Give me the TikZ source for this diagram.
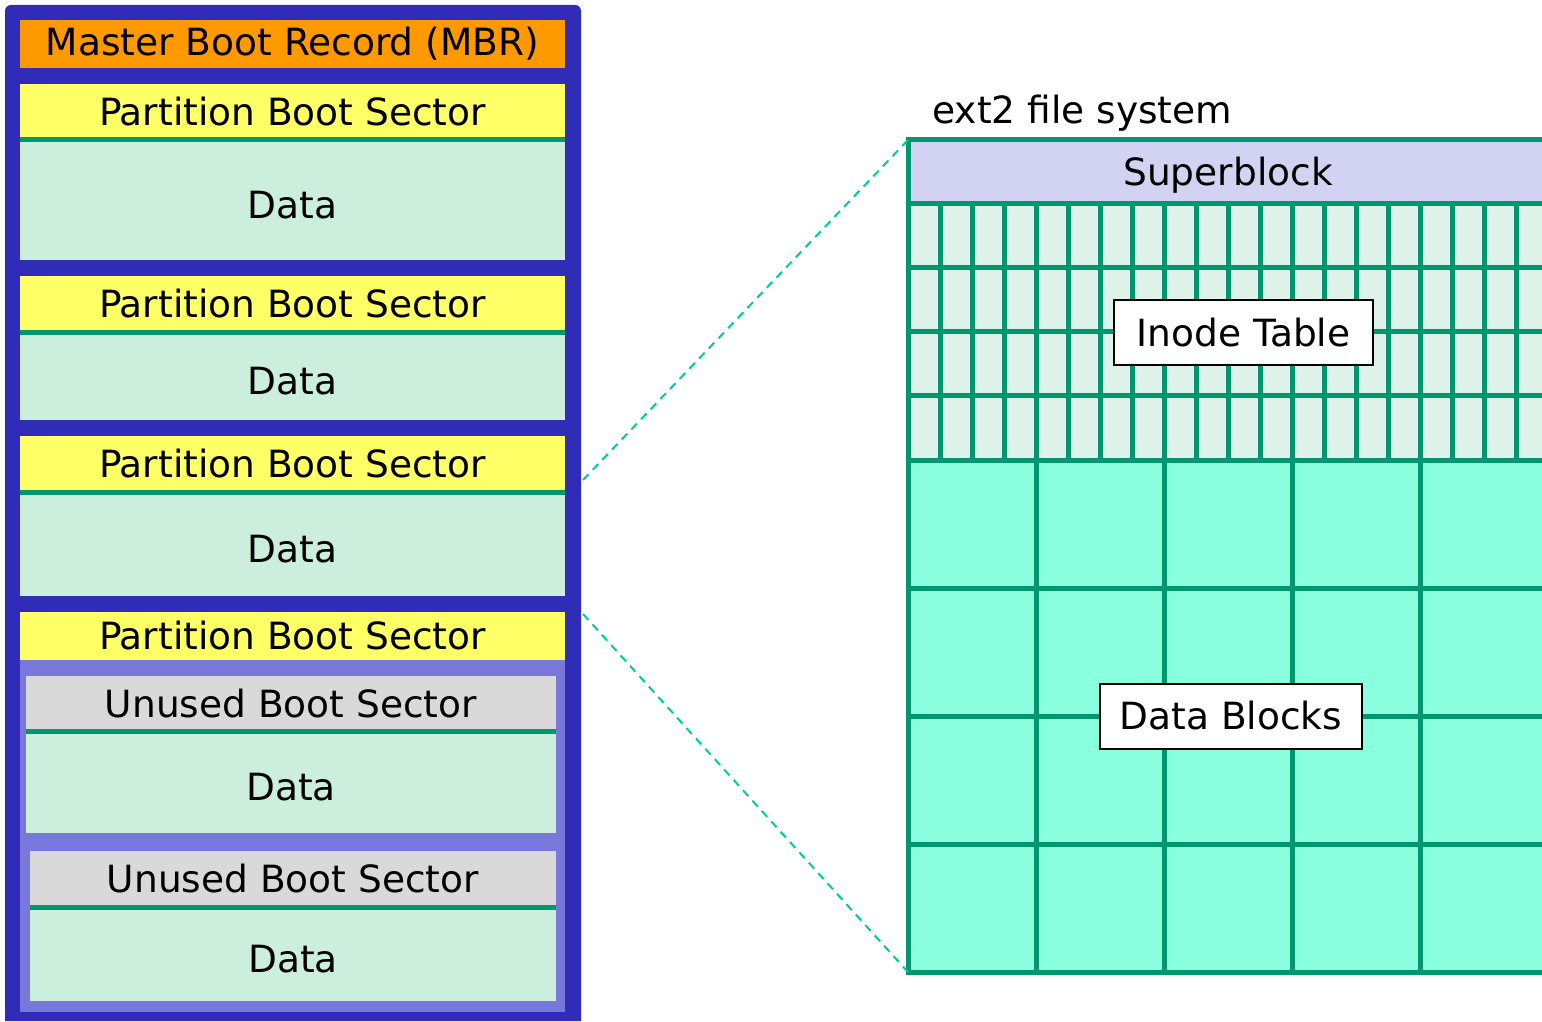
\documentclass[tikz,border=0pt]{standalone}
\usepackage{fontspec}
\setmainfont{DejaVu Sans}
\usetikzlibrary{positioning}

\definecolor{diskblue}{RGB}{48,44,184}
\definecolor{extblue}{RGB}{120,120,220}
\definecolor{mbrorange}{RGB}{255,153,0}
\definecolor{bootyellow}{RGB}{255,255,102}
\definecolor{unusedgray}{RGB}{217,217,217}
\definecolor{datamint}{RGB}{204,238,221}
\definecolor{sepgreen}{RGB}{0,150,112}
\definecolor{zoomgreen}{RGB}{0,204,153}
\definecolor{superlilac}{RGB}{210,210,242}
\definecolor{inodemint}{RGB}{221,242,232}
\definecolor{blockaqua}{RGB}{138,255,222}

\begin{document}
\begin{tikzpicture}[
    x=1pt, y=-1pt,
    font=\fontsize{37.5}{45}\selectfont,
    area/.style={rectangle, inner sep=0pt, outer sep=0pt},
    mbrbox/.style={area, fill=mbrorange, minimum width=545pt, minimum height=48pt},
    sector/.style={area, fill=bootyellow, minimum width=545pt, minimum height=56pt},
    unused/.style={area, fill=unusedgray, minimum height=55pt},
    databox/.style={area, fill=datamint, text height=37pt, text depth=0pt},
    sepline/.style={draw=sepgreen, line width=5pt},
    gridline/.style={draw=sepgreen, line width=5pt},
    labelbox/.style={area, draw=black, line width=2pt, fill=white, minimum height=65pt},
    zoomline/.style={draw=zoomgreen, line width=2pt, dash pattern=on 8pt off 6pt}
]
\useasboundingbox (0,0) rectangle (1542,1022);

% Disk
\fill [diskblue, rounded corners=6pt] (5,1021) -- (5,5) -- (581,5) [sharp corners] -- (581,1021) -- cycle;
\node [area, minimum width=576pt, minimum height=1016pt] (disk) at (293,513) {};

% Master Boot Record
\node [mbrbox] (mbr) at (292.5,44) {Master Boot Record (MBR)};

% Partition 1
\node [sector] (pbs1) at (292.5,112) {Partition Boot Sector};
\node [databox, below=0pt of pbs1, minimum width=545pt, minimum height=120pt] (data1) {Data};

% Partition 2
\node [sector] (pbs2) at (292.5,304) {Partition Boot Sector};
\node [databox, below=0pt of pbs2, minimum width=545pt, minimum height=88pt] (data2) {Data};

% Partition 3
\node [sector] (pbs3) at (292.5,464) {Partition Boot Sector};
\node [databox, below=0pt of pbs3, minimum width=545pt, minimum height=104pt] (data3) {Data};

% Extended partition
\node [sector, minimum height=48pt] (pbs4) at (292.5,636) {Partition Boot Sector};
\node [area, fill=extblue, below=0pt of pbs4, minimum width=545pt, minimum height=352pt] (extpart) {};

% Logical drive 1
\node [unused, minimum width=530pt] (ubs1) at (291,703.5) {Unused Boot Sector};
\node [databox, below=0pt of ubs1, minimum width=530pt, minimum height=102pt] (udata1) {Data};

% Logical drive 2
\node [unused, minimum width=526pt, minimum height=56pt] (ubs2) at (293,879) {Unused Boot Sector};
\node [databox, below=0pt of ubs2, minimum width=526pt, minimum height=94pt] (udata2) {Data};

% Separators
\path [sepline] (data1.north west) -- (data1.north east);
\path [sepline] (data2.north west) -- (data2.north east);
\path [sepline] (data3.north west) -- (data3.north east);
\path [sepline] (udata1.north west) -- (udata1.north east);
\path [sepline] (udata2.north west) -- (udata2.north east);

% ext2 file system
\node [anchor=base west] (fstitle) at (929,124) {ext2 file system};

\begin{scope}
\clip (0,0) rectangle (1542,1022);

% Inode table
\node [area, fill=inodemint, gridline, minimum width=640pt, minimum height=256.5pt] (inodes) at (1228,331.75) {};
\foreach \x in {940,972,...,1516}
    \path [gridline] (\x,203.5) -- (\x,460);
\foreach \y in {267.5,331.5,395.5}
    \path [gridline] (908,\y) -- (1548,\y);

% Data blocks
\node [area, fill=blockaqua, gridline, below=0pt of inodes, minimum width=640pt, minimum height=512pt] (blocks) {};
\foreach \x in {1036,1164,1292,1420}
    \path [gridline] (\x,460) -- (\x,972);
\foreach \y in {588,716,844}
    \path [gridline] (908,\y) -- (1548,\y);

% Superblock
\node [area, fill=superlilac, gridline, text depth=0pt, minimum width=640pt, minimum height=63.5pt] (super) at (1228,171.75) {Superblock};
\end{scope}

% Labels
\node [labelbox, minimum width=259pt] (inodelabel) at (1243.5,332.5) {Inode Table};
\node [labelbox, minimum width=262pt] (blocklabel) at (1231,716) {Data Blocks};

% Zoom lines
\coordinate (zoomtop) at (583,480);
\coordinate (zoombot) at (583,614);
\path [zoomline] (zoomtop) -- (super.north west);
\path [zoomline] (zoombot) -- (blocks.south west);

\end{tikzpicture}
\end{document}
